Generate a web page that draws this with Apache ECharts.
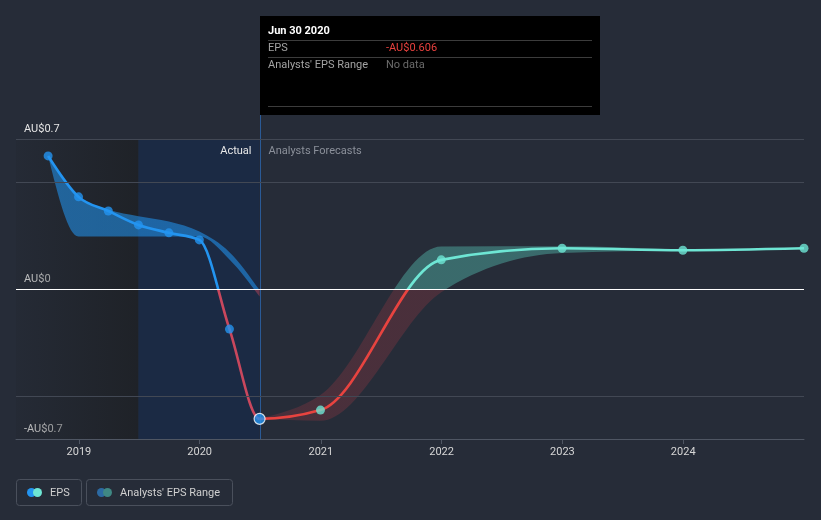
<!DOCTYPE html>
<html><head><meta charset="utf-8">
<script src="https://cdn.jsdelivr.net/npm/echarts@6/dist/echarts.min.js"></script>
<style>html,body{margin:0;padding:0;background:#262c38;}#c{width:821px;height:520px;}</style>
</head><body><div id="c"></div>
<script>
// ---- data ----
const pastDates = ['2018-09-30','2018-12-31','2019-03-31','2019-06-30','2019-09-30','2019-12-31','2020-03-31','2020-06-30'];
const pastEps = [0.621, 0.43, 0.364, 0.299, 0.262, 0.229, -0.187, -0.606];
const pastRangeLow = [0.621, 0.245, 0.245, 0.245, 0.245, 0.245, 0.138, -0.035];
const pastRangeHigh = [0.621, 0.43, 0.37, 0.34, 0.315, 0.268, 0.172, -0.005];
const fcDates = ['2020-06-30','2020-12-31','2021-12-31','2022-12-31','2023-12-31','2024-12-31'];
const fcEps = [-0.606, -0.565, 0.136, 0.19, 0.181, 0.19];
const fcRangeDates = ['2020-06-30','2020-12-31','2021-12-31','2022-12-31','2023-12-31'];
const fcRangeLow = [-0.606, -0.615, -0.015, 0.168, 0.18];
const fcRangeHigh = [-0.606, -0.495, 0.198, 0.2, 0.183];
const yearTicks = ['2019','2020','2021','2022','2023','2024'];
const yLabelValues = [-0.7, 0, 0.7];
const gridValues = [0.7, 0.5, -0.5];
const xMinDate = '2018-06-25', xMaxDate = '2024-12-31';
const splitDate = '2019-06-30', todayDate = '2020-06-30';

const ts = d => new Date(d + 'T00:00:00Z').getTime();
const fmtAU = v => (v < 0 ? '-' : '') + 'AU$' + Math.abs(v);
const FONT = 'Roboto, "Noto Sans", sans-serif';
const H = 520;

// monotone-x cubic segments through pixel points
function monoSegs(p) {
  const n = p.length, h = [], s = [], m = new Array(n);
  for (let i = 0; i < n - 1; i++) { h[i] = p[i+1][0] - p[i][0]; s[i] = (p[i+1][1] - p[i][1]) / h[i]; }
  if (n === 2) { m[0] = m[1] = s[0]; }
  else {
    for (let i = 1; i < n - 1; i++) {
      const s0 = s[i-1], s1 = s[i], h0 = h[i-1], h1 = h[i];
      const q = (s0 * h1 + s1 * h0) / (h0 + h1);
      m[i] = (Math.sign(s0) + Math.sign(s1)) * Math.min(Math.abs(s0), Math.abs(s1), 0.5 * Math.abs(q)) || 0;
    }
    m[0] = (3 * s[0] - m[1]) / 2;
    m[n-1] = (3 * s[n-2] - m[n-2]) / 2;
  }
  const segs = [];
  for (let i = 0; i < n - 1; i++) {
    const dx = h[i] / 3;
    segs.push([p[i], [p[i][0] + dx, p[i][1] + dx * m[i]], [p[i+1][0] - dx, p[i+1][1] - dx * m[i+1]], p[i+1]]);
  }
  return segs;
}
const fwd = segs => segs.map(s => `C${s[1][0]},${s[1][1]} ${s[2][0]},${s[2][1]} ${s[3][0]},${s[3][1]}`).join(' ');
const rev = segs => segs.slice().reverse().map(s => `C${s[2][0]},${s[2][1]} ${s[1][0]},${s[1][1]} ${s[0][0]},${s[0][1]}`).join(' ');
const split = (zeroY, above, below) => new echarts.graphic.LinearGradient(0, 0, 0, H, [
  {offset: 0, color: above}, {offset: zeroY / H, color: above}, {offset: zeroY / H, color: below}, {offset: 1, color: below}], true);

function bandSeries(dates, lo, hi, above, below) {
  return {
    type: 'custom', silent: true, z: 2,
    data: dates.map((d, i) => [ts(d), lo[i], hi[i]]),
    encode: {x: 0, y: [1, 2]},
    renderItem: (params, api) => {
      if (params.dataIndex !== 0) return null;
      const up = dates.map((d, i) => api.coord([ts(d), hi[i]]));
      const dn = dates.map((d, i) => api.coord([ts(d), lo[i]]));
      const su = monoSegs(up), sd = monoSegs(dn);
      const last = dn[dn.length - 1];
      const path = `M${up[0][0]},${up[0][1]} ${fwd(su)} L${last[0]},${last[1]} ${rev(sd)} Z`;
      const zeroY = api.coord([ts(dates[0]), 0])[1];
      return {type: 'path', shape: {pathData: path}, style: {fill: split(zeroY, above, below), stroke: null}};
    }
  };
}

const allDates = pastDates.concat(fcDates.slice(1));
const allEps = pastEps.concat(fcEps.slice(1));

const lineSeries = {
  type: 'custom', silent: true, z: 4,
  data: allDates.map((d, i) => [ts(d), allEps[i]]),
  encode: {x: 0, y: 1},
  renderItem: (params, api) => {
    if (params.dataIndex !== 0) return null;
    const pts = allDates.map((d, i) => api.coord([ts(d), allEps[i]]));
    const segs = monoSegs(pts);
    const k = pastDates.length - 1;
    const pastSegs = segs.slice(0, k), fcSegs = segs.slice(k);
    const zeroY = api.coord([ts(allDates[0]), 0])[1];
    const mk = (sg, above, below) => ({type: 'path',
      shape: {pathData: `M${sg[0][0][0]},${sg[0][0][1]} ${fwd(sg)}`},
      style: {fill: null, stroke: split(zeroY, above, below), lineWidth: 2.6, lineJoin: 'round'}});
    return {type: 'group', children: [mk(pastSegs, '#2394f0', '#c9475d'), mk(fcSegs, '#6ee6d4', '#e8433f')]};
  }
};

const chart = echarts.init(document.getElementById('c'), null, {renderer: 'canvas'});

const option = {
  backgroundColor: '#262c38',
  animation: false,
  grid: {left: 16, right: 17, top: 139, bottom: 81},
  xAxis: {
    type: 'value', min: ts(xMinDate), max: ts(xMaxDate),
    axisLine: {show: true, onZero: false, lineStyle: {color: '#4f5663', width: 1}},
    axisTick: {show: true, customValues: yearTicks.map(y => ts(y + '-01-01')), length: 5, lineStyle: {color: '#4f5663'}},
    axisLabel: {customValues: yearTicks.map(y => ts(y + '-01-01')), formatter: v => String(new Date(v).getUTCFullYear()),
      color: '#d6d6d6', fontSize: 11, fontFamily: FONT, margin: 8},
    splitLine: {show: false}
  },
  yAxis: {
    type: 'value', min: -0.7, max: 0.7,
    axisLine: {show: false}, axisTick: {show: false}, splitLine: {show: false},
    axisLabel: {customValues: yLabelValues, inside: true, margin: 8, formatter: v => fmtAU(v),
      color: '#e6e6e6', fontSize: 11, fontFamily: FONT, verticalAlign: 'bottom', padding: [0, 0, 4, 0]}
  },
  series: [
    {
      type: 'line', name: 'frame', data: [], silent: true, z: 1,
      markArea: {
        silent: true,
        data: [
          [{xAxis: ts(xMinDate), itemStyle: {color: new echarts.graphic.LinearGradient(0, 0, 1, 0, [
            {offset: 0, color: 'rgba(30,33,38,0.15)'}, {offset: 1, color: 'rgba(30,33,38,0.9)'}])}}, {xAxis: ts(splitDate)}],
          [{xAxis: ts(splitDate), itemStyle: {color: '#1b2a44'}}, {xAxis: ts(todayDate)}]
        ]
      },
      markLine: {
        silent: true, symbol: 'none', label: {show: false},
        lineStyle: {type: 'solid', color: '#424854', width: 1},
        data: gridValues.map(v => ({yAxis: v})).concat([{yAxis: 0, lineStyle: {color: '#ffffff', width: 1}}])
      }
    },
    bandSeries(pastDates, pastRangeLow, pastRangeHigh, 'rgba(33,150,243,0.55)', 'rgba(200,70,90,0.45)'),
    bandSeries(fcRangeDates, fcRangeLow, fcRangeHigh, 'rgba(88,200,185,0.4)', 'rgba(200,60,70,0.22)'),
    lineSeries,
    {
      type: 'scatter', name: 'pastPts', z: 6, symbolSize: 9, itemStyle: {color: '#2394f0'}, silent: true,
      data: pastDates.map((d, i) => i === pastDates.length - 1 ?
        {value: [ts(d), pastEps[i]], symbolSize: 11, itemStyle: {borderColor: '#ffffff', borderWidth: 1.2}} : [ts(d), pastEps[i]])
    },
    {
      type: 'scatter', name: 'fcPts', z: 6, symbolSize: 9, itemStyle: {color: '#6ee6d4'}, silent: true,
      data: fcDates.slice(1).map((d, i) => [ts(d), fcEps[i + 1]])
    }
  ]
};
chart.setOption(option);

const vx = Math.round(chart.convertToPixel({xAxisIndex: 0}, ts(todayDate))) + 0.5;
const bottomY = chart.convertToPixel({yAxisIndex: 0}, -0.7);
const topY = chart.convertToPixel({yAxisIndex: 0}, 0.7);
const lastEps = pastEps[pastEps.length - 1];
const d = new Date(ts(todayDate));
const months = ['Jan','Feb','Mar','Apr','May','Jun','Jul','Aug','Sep','Oct','Nov','Dec'];
const tipTitle = months[d.getUTCMonth()] + ' ' + d.getUTCDate() + ' ' + d.getUTCFullYear();
const txt = (x, y, s, fill, extra) => ({type: 'text', x, y, silent: true, z: 30,
  style: Object.assign({text: s, fill, font: '11px ' + FONT, verticalAlign: 'middle'}, extra || {})});
const hline = (x1, x2, y, c) => ({type: 'line', silent: true, z: 31, shape: {x1, y1: y, x2, y2: y}, style: {stroke: c, lineWidth: 1}});

chart.setOption({graphic: [
  {type: 'line', silent: true, z: 3, shape: {x1: vx, y1: 114, x2: vx, y2: bottomY}, style: {stroke: '#2a5a96', lineWidth: 1}},
  txt(vx - 9, topY + 12, 'Actual', '#e8e8e8', {align: 'right'}),
  txt(vx + 8, topY + 12, 'Analysts Forecasts', '#8b909a'),
  {type: 'rect', silent: true, z: 29, shape: {x: 260, y: 16, width: 340, height: 99}, style: {fill: '#000000'}},
  txt(268, 31, tipTitle, '#ffffff', {font: 'bold 11px ' + FONT}),
  hline(268, 592, 40.5, '#3c3c3c'),
  txt(268, 48.5, 'EPS', '#a3a3a3'),
  txt(386, 48.5, fmtAU(lastEps), '#e8413e'),
  hline(268, 592, 57.5, '#3c3c3c'),
  txt(268, 65.5, "Analysts' EPS Range", '#a3a3a3'),
  txt(386, 65.5, 'No data', '#6b6b6b'),
  hline(268, 592, 106.5, '#3c3c3c'),
  {type: 'rect', silent: true, shape: {x: 16.5, y: 479.5, width: 65, height: 26, r: 3}, style: {fill: 'none', stroke: '#4a505c', lineWidth: 1}},
  {type: 'circle', silent: true, shape: {cx: 31.5, cy: 492.5, r: 4.5}, style: {fill: '#2394f0'}},
  {type: 'circle', silent: true, shape: {cx: 37.5, cy: 492.5, r: 4.5}, style: {fill: '#6ee6d4'}},
  txt(50, 493, 'EPS', '#d0d0d0'),
  {type: 'rect', silent: true, shape: {x: 86.5, y: 479.5, width: 146, height: 26, r: 3}, style: {fill: 'none', stroke: '#4a505c', lineWidth: 1}},
  {type: 'circle', silent: true, shape: {cx: 101.5, cy: 492.5, r: 4.5}, style: {fill: '#2c6aa3'}},
  {type: 'circle', silent: true, shape: {cx: 107.5, cy: 492.5, r: 4.5}, style: {fill: '#3f8884'}},
  txt(120, 493, "Analysts' EPS Range", '#d0d0d0')
]});
</script>
</body></html>
